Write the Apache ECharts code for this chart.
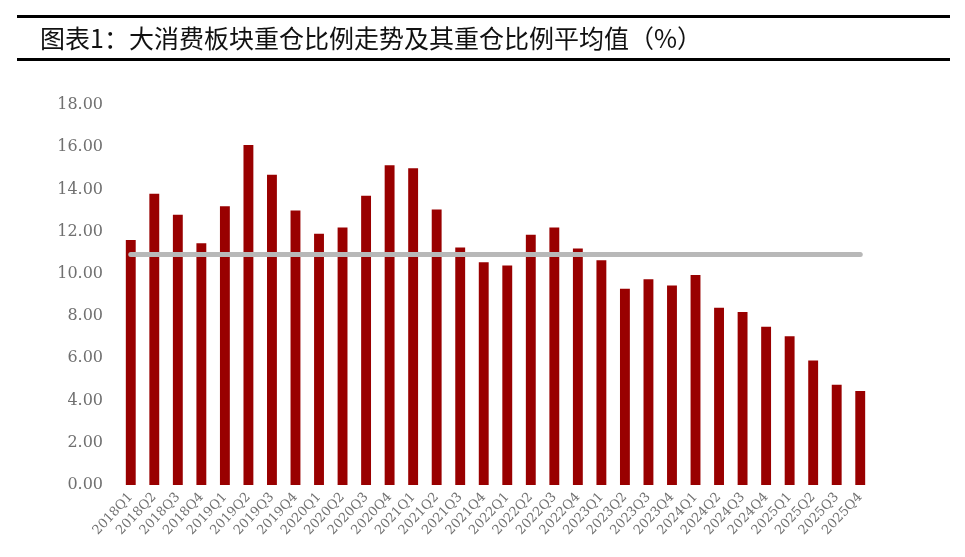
<!DOCTYPE html>
<html>
<head>
<meta charset="utf-8">
<script src="https://cdn.jsdelivr.net/npm/echarts@6/dist/echarts.min.js"></script>
<style>
  html, body { margin: 0; padding: 0; background: #fff; }
  #main { width: 965px; height: 557px; }
</style>
</head>
<body>
<div id="main"></div>
<script>
// 季度
const quarters = [
  '2018Q1', '2018Q2', '2018Q3', '2018Q4',
  '2019Q1', '2019Q2', '2019Q3', '2019Q4',
  '2020Q1', '2020Q2', '2020Q3', '2020Q4',
  '2021Q1', '2021Q2', '2021Q3', '2021Q4',
  '2022Q1', '2022Q2', '2022Q3', '2022Q4',
  '2023Q1', '2023Q2', '2023Q3', '2023Q4',
  '2024Q1', '2024Q2', '2024Q3', '2024Q4',
  '2025Q1', '2025Q2', '2025Q3', '2025Q4'
];
// 大消费板块重仓比例 (%)
const heavyRatio = [
  11.60, 13.80, 12.80, 11.45,
  13.20, 16.10, 14.70, 13.00,
  11.90, 12.20, 13.70, 15.15,
  15.00, 13.05, 11.25, 10.55,
  10.40, 11.85, 12.20, 11.20,
  10.65, 9.30, 9.75, 9.45,
  9.95, 8.40, 8.20, 7.50,
  7.05, 5.90, 4.75, 4.45
];
// 重仓比例平均值
const avgRatio = 10.95;
const yTicks = { min: 0, max: 18, interval: 2 };

const serif = '"DejaVu Serif", "Liberation Serif", serif';

let myChart = echarts.init(document.getElementById('main'));
myChart.setOption({
  animation: false,
  backgroundColor: '#fff',
  graphic: [
    { type: 'rect', shape: { x: 17, y: 15, width: 933, height: 3 }, style: { fill: '#000' } },
    { type: 'rect', shape: { x: 17, y: 58, width: 933, height: 3 }, style: { fill: '#000' } },
    {
      type: 'text', left: 40, top: 26,
      style: {
        text: '图表1：大消费板块重仓比例走势及其重仓比例平均值（%）',
        font: '25px "Noto Sans CJK SC"',
        fill: '#111'
      }
    }
  ],
  grid: { left: 119, right: 93, top: 105, bottom: 72 },
  xAxis: {
    type: 'category',
    data: quarters,
    axisLine: { show: false },
    axisTick: { show: false },
    axisLabel: {
      rotate: 47,
      interval: 0,
      margin: 10,
      color: '#707070',
      fontFamily: serif,
      fontSize: 13
    }
  },
  yAxis: {
    type: 'value',
    min: yTicks.min,
    max: yTicks.max,
    interval: yTicks.interval,
    axisLine: { show: false },
    axisTick: { show: false },
    splitLine: { show: false },
    axisLabel: {
      margin: 16,
      color: '#707070',
      fontFamily: serif,
      fontSize: 16,
      formatter: (v) => v.toFixed(2)
    }
  },
  series: [
    {
      name: '重仓比例',
      type: 'bar',
      data: heavyRatio,
      barWidth: '42%',
      itemStyle: { color: '#990000' },
      markLine: {
        silent: true,
        symbol: ['none', 'none'],
        label: { show: false },
        lineStyle: { color: '#b8b8b8', width: 5, type: 'solid', cap: 'round' },
        data: [[
          { coord: [quarters[0], avgRatio] },
          { coord: [quarters[quarters.length - 1], avgRatio] }
        ]]
      }
    }
  ]
});
</script>
</body>
</html>
